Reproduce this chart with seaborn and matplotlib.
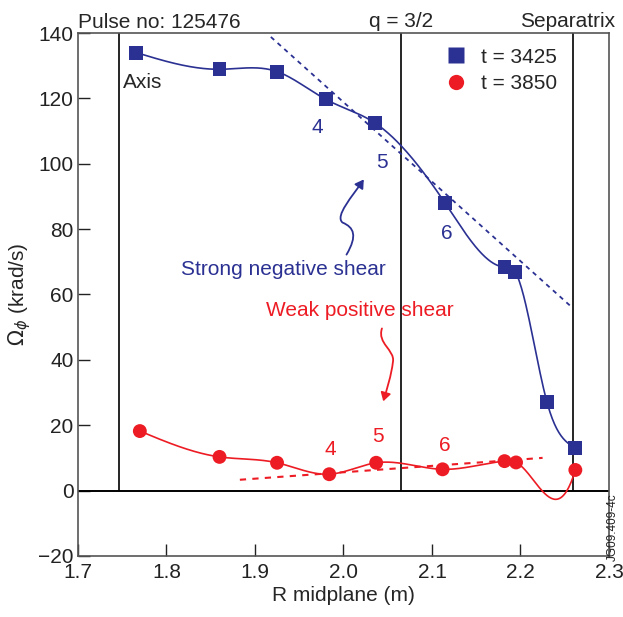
import numpy as np
import pandas as pd
import matplotlib
matplotlib.use("Agg")
import matplotlib.pyplot as plt
from matplotlib.path import Path
from matplotlib.patches import FancyArrowPatch
import seaborn as sns

# data
r_3425 = [1.766, 1.860, 1.925, 1.980, 2.036, 2.115, 2.182, 2.194, 2.230, 2.262]
om_3425 = [134.0, 128.9, 128.2, 119.7, 112.4, 87.9, 68.4, 66.9, 27.0, 13.0]
r_3850 = [1.770, 1.860, 1.925, 1.984, 2.037, 2.112, 2.182, 2.195, 2.262]
om_3850 = [18.2, 10.3, 8.5, 5.0, 8.5, 6.5, 9.0, 8.6, 6.3]

fit_blue_r = [1.918, 2.258]
fit_blue_om = [138.8, 56.1]
fit_red_r = [1.883, 2.225]
fit_red_om = [3.3, 10.0]

axis_r = 1.746
q32_r = 2.065
sep_r = 2.259

BLUE = "#2B3192"
RED = "#ED1C24"
FS = 15


def spline(x, y, end_slope=None, n=400):
    # cubic spline, natural at the left, natural or clamped at the right
    x = np.asarray(x, float)
    y = np.asarray(y, float)
    k = len(x)
    h = np.diff(x)
    A = np.zeros((k, k))
    b = np.zeros(k)
    A[0, 0] = 1
    for i in range(1, k - 1):
        A[i, i - 1] = h[i - 1]
        A[i, i] = 2 * (h[i - 1] + h[i])
        A[i, i + 1] = h[i]
        b[i] = 3 * ((y[i + 1] - y[i]) / h[i] - (y[i] - y[i - 1]) / h[i - 1])
    if end_slope is None:
        A[-1, -1] = 1
    else:
        A[-1, -2] = h[-1]
        A[-1, -1] = 2 * h[-1]
        b[-1] = 3 * (end_slope - (y[-1] - y[-2]) / h[-1])
    c = np.linalg.solve(A, b)
    xs = np.linspace(x[0], x[-1], n)
    idx = np.clip(np.searchsorted(x, xs) - 1, 0, k - 2)
    dx = xs - x[idx]
    bb = (y[idx + 1] - y[idx]) / h[idx] - h[idx] * (2 * c[idx] + c[idx + 1]) / 3
    dd = (c[idx + 1] - c[idx]) / (3 * h[idx])
    ys = y[idx] + bb * dx + c[idx] * dx ** 2 + dd * dx ** 3
    return xs, ys


sns.set_style("ticks")
plt.rcParams["font.family"] = ["Liberation Sans", "DejaVu Sans"]
plt.rcParams["mathtext.fontset"] = "dejavusans"

fig = plt.figure(figsize=(6.23, 6.17), dpi=100)
ax = fig.add_axes([0.125, 0.099, 0.8525, 0.8475])

df = pd.concat([
    pd.DataFrame({"R": r_3425, "om": om_3425, "t": "t = 3425"}),
    pd.DataFrame({"R": r_3850, "om": om_3850, "t": "t = 3850"}),
])

# reference lines
ax.axhline(0, color="black", lw=1.4, zorder=1)
ax.vlines([axis_r, q32_r, sep_r], 0, 140, color="black", lw=1.2, zorder=1)

# smooth curves through the points
xs, ys = spline(r_3425, om_3425)
ax.plot(xs, ys, color=BLUE, lw=1.2, zorder=2)
xs, ys = spline(r_3850, om_3850, end_slope=900)
ax.plot(xs, ys, color=RED, lw=1.2, zorder=2)

# fitted shear lines
ax.plot(fit_blue_r, fit_blue_om, color=BLUE, lw=1.3, ls=(0, (2.5, 2.5)), zorder=2)
ax.plot(fit_red_r, fit_red_om, color=RED, lw=1.5, ls=(0, (3, 3)), zorder=2)

sns.scatterplot(data=df, x="R", y="om", hue="t", style="t",
                markers={"t = 3425": "s", "t = 3850": "o"},
                palette={"t = 3425": BLUE, "t = 3850": RED},
                s=100, edgecolor="none", ax=ax, zorder=3)

ax.legend(loc="upper right", frameon=False, fontsize=FS, handletextpad=0.2,
          labelspacing=0.35, borderaxespad=0.3, bbox_to_anchor=(0.93, 1.0),
          markerscale=1.1)

ax.set_xlim(1.7, 2.3)
ax.set_ylim(-20, 140)
ax.set_xticks(np.arange(1.7, 2.31, 0.1))
ax.set_xticklabels([f"{v:.1f}" for v in np.arange(1.7, 2.31, 0.1)])
ax.set_yticks(np.arange(-20, 141, 20))
ax.set_yticklabels(["\u221220" if v < 0 else str(v) for v in range(-20, 141, 20)])
ax.tick_params(direction="in", length=8.5, width=1, labelsize=FS, colors="#222222",
               top=False, right=False)
ax.tick_params(axis="x", pad=5)
ax.tick_params(axis="y", pad=3)
for s in ax.spines.values():
    s.set_color("#555555")
    s.set_linewidth(1.2)

ax.set_xlabel("R midplane (m)", fontsize=FS, labelpad=3)
ax.set_ylabel(r"$\Omega_\phi$ (krad/s)", fontsize=FS, labelpad=4)

# top labels
ax.text(0.0, 1.002, "Pulse no: 125476", transform=ax.transAxes, fontsize=FS,
        ha="left", va="bottom")
ax.text(q32_r, 140.5, "q = 3/2", fontsize=FS, ha="center", va="bottom")
ax.text(2.253, 140.5, "Separatrix", fontsize=FS, ha="center", va="bottom")
ax.text(1.751, 125, "Axis", fontsize=FS, ha="left", va="center")

# mode numbers
for r, om, s in [(1.971, 111, "4"), (2.044, 100.3, "5"), (2.117, 78.8, "6")]:
    ax.text(r, om, s, color=BLUE, fontsize=FS, ha="center", va="center")
for r, om, s in [(1.985, 12.5, "4"), (2.039, 16.5, "5"), (2.115, 13.8, "6")]:
    ax.text(r, om, s, color=RED, fontsize=FS, ha="center", va="center")

ax.text(1.932, 67.7, "Strong negative shear", color=BLUE, fontsize=FS,
        ha="center", va="center")
ax.text(2.019, 55.2, "Weak positive shear", color=RED, fontsize=FS,
        ha="center", va="center")

# curly arrows
blue_path = Path([(2.0035, 72.2), (2.016, 78), (2.012, 80.5), (1.999, 82.0),
                  (1.990, 84), (2.010, 90), (2.023, 95.2)],
                 [Path.MOVETO, Path.CURVE4, Path.CURVE4, Path.CURVE4,
                  Path.CURVE4, Path.CURVE4, Path.CURVE4])
ax.add_patch(FancyArrowPatch(path=blue_path, arrowstyle="-|>,head_length=5,head_width=3",
                             color=BLUE, lw=1.3, zorder=4))
red_path = Path([(2.0435, 49.6), (2.038, 45), (2.058, 43), (2.056, 39.5),
                 (2.054, 35), (2.049, 31), (2.045, 27.3)],
                [Path.MOVETO, Path.CURVE4, Path.CURVE4, Path.CURVE4,
                 Path.CURVE4, Path.CURVE4, Path.CURVE4])
ax.add_patch(FancyArrowPatch(path=red_path, arrowstyle="-|>,head_length=5,head_width=3",
                             color=RED, lw=1.3, zorder=4))

fig.text(0.984, 0.145, "JG09.409-4c", rotation=90, fontsize=8.5, ha="center",
         va="center", color="#222222")

fig.savefig("out.png", dpi=100)
